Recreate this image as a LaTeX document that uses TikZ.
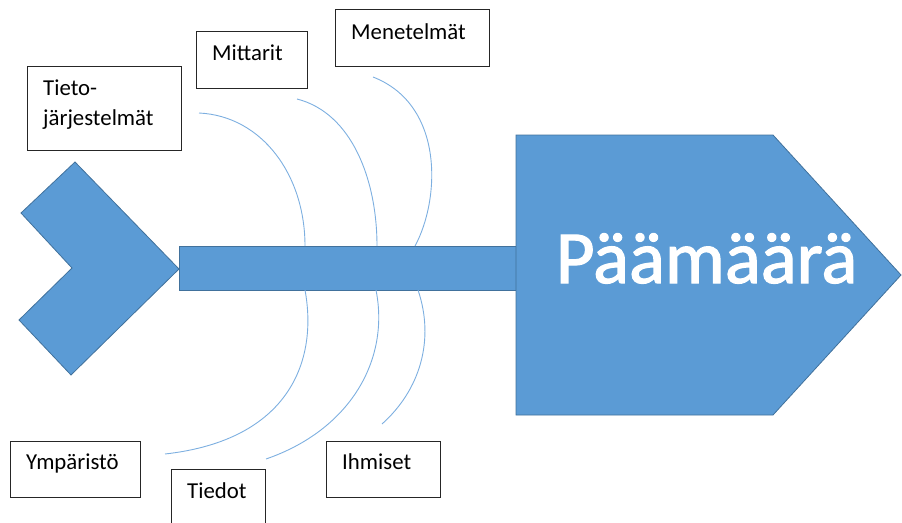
\documentclass[tikz,border=0pt]{standalone}
\usepackage{fontspec}
\setmainfont{Carlito}
\newfontfamily\goalfont[FakeBold=1.6]{Carlito}
\begin{document}
\begin{tikzpicture}[x=1pt,y=-1pt,
  bone/.style={fill=fishblue, draw=fishedge, line width=0.8pt, line join=miter},
  rib/.style={draw=ribblue, line width=0.9pt},
  catbox/.style={draw=black!85, line width=1.1pt, fill=white},
  cattext/.style={font=\fontsize{22.8}{30}\selectfont, inner sep=0pt, anchor=base west, align=left},
  goaltext/.style={font=\goalfont\fontsize{75}{80}\selectfont, inner sep=0pt, anchor=base}]
\definecolor{fishblue}{HTML}{5B9BD5}
\definecolor{fishedge}{HTML}{41719C}
\definecolor{ribblue}{HTML}{7DAFE0}
\useasboundingbox (0,0) rectangle (902,522);
\clip (0,0) rectangle (902,522);

% tail chevron
\draw[bone] (75,162) -- (179,269) -- (71,375) -- (19,320) -- (72,268) -- (21,213) -- cycle;
% spine
\draw[bone] (179,246) rectangle (517,290);
% head
\draw[bone] (516,135) -- (773,135) -- (901,275) -- (773,415) -- (516,415) -- cycle;

% goal text
\node[goaltext, text=white] (goal) at (706.5,283) {Päämäärä};

% category boxes
\node[catbox, anchor=north west, minimum width=154, minimum height=84] (tj) at (27,66) {};
\node[catbox, anchor=north west, minimum width=111, minimum height=57] (mi) at (196,31) {};
\node[catbox, anchor=north west, minimum width=154, minimum height=57] (me) at (335,9) {};
\node[catbox, anchor=north west, minimum width=130, minimum height=56] (ym) at (10,441) {};
\node[catbox, anchor=north west, minimum width=94, minimum height=70] (ti) at (171,469) {};
\node[catbox, anchor=north west, minimum width=114, minimum height=56] (ih) at (326,441) {};

\node[cattext] (tjt) at (43,125) {Tieto-\\järjestelmät};
\node[cattext] (mit) at (212,60) {Mittarit};
\node[cattext] (met) at (351,39) {Menetelmät};
\node[cattext] (ymt) at (26,469) {Ympäristö};
\node[cattext] (tit) at (187,498) {Tiedot};
\node[cattext] (iht) at (342,469) {Ihmiset};

% rib end points
\coordinate (u1) at (199,113);  \coordinate (s1) at (305,246);
\coordinate (u2) at (297,99);   \coordinate (s2) at (377,246);
\coordinate (u3) at (373,77);   \coordinate (s3) at (415,246);
\coordinate (l1) at (165,454);  \coordinate (t1) at (305,290);
\coordinate (l2) at (266,459);  \coordinate (t2) at (376,290);
\coordinate (l3) at (382,424);  \coordinate (t3) at (418,290);

% upper ribs
\draw[rib] (u1) .. controls (262,116) and (305,175) .. (s1);
\draw[rib] (u2) .. controls (352,113) and (377,180) .. (s2);
\draw[rib] (u3) .. controls (445,105) and (440,200) .. (s3);
% lower ribs
\draw[rib] (t1) .. controls (318,360) and (290,440) .. (l1);
\draw[rib] (t2) .. controls (390,360) and (350,430) .. (l2);
\draw[rib] (t3) .. controls (435,340) and (420,390) .. (l3);
\end{tikzpicture}
\end{document}
